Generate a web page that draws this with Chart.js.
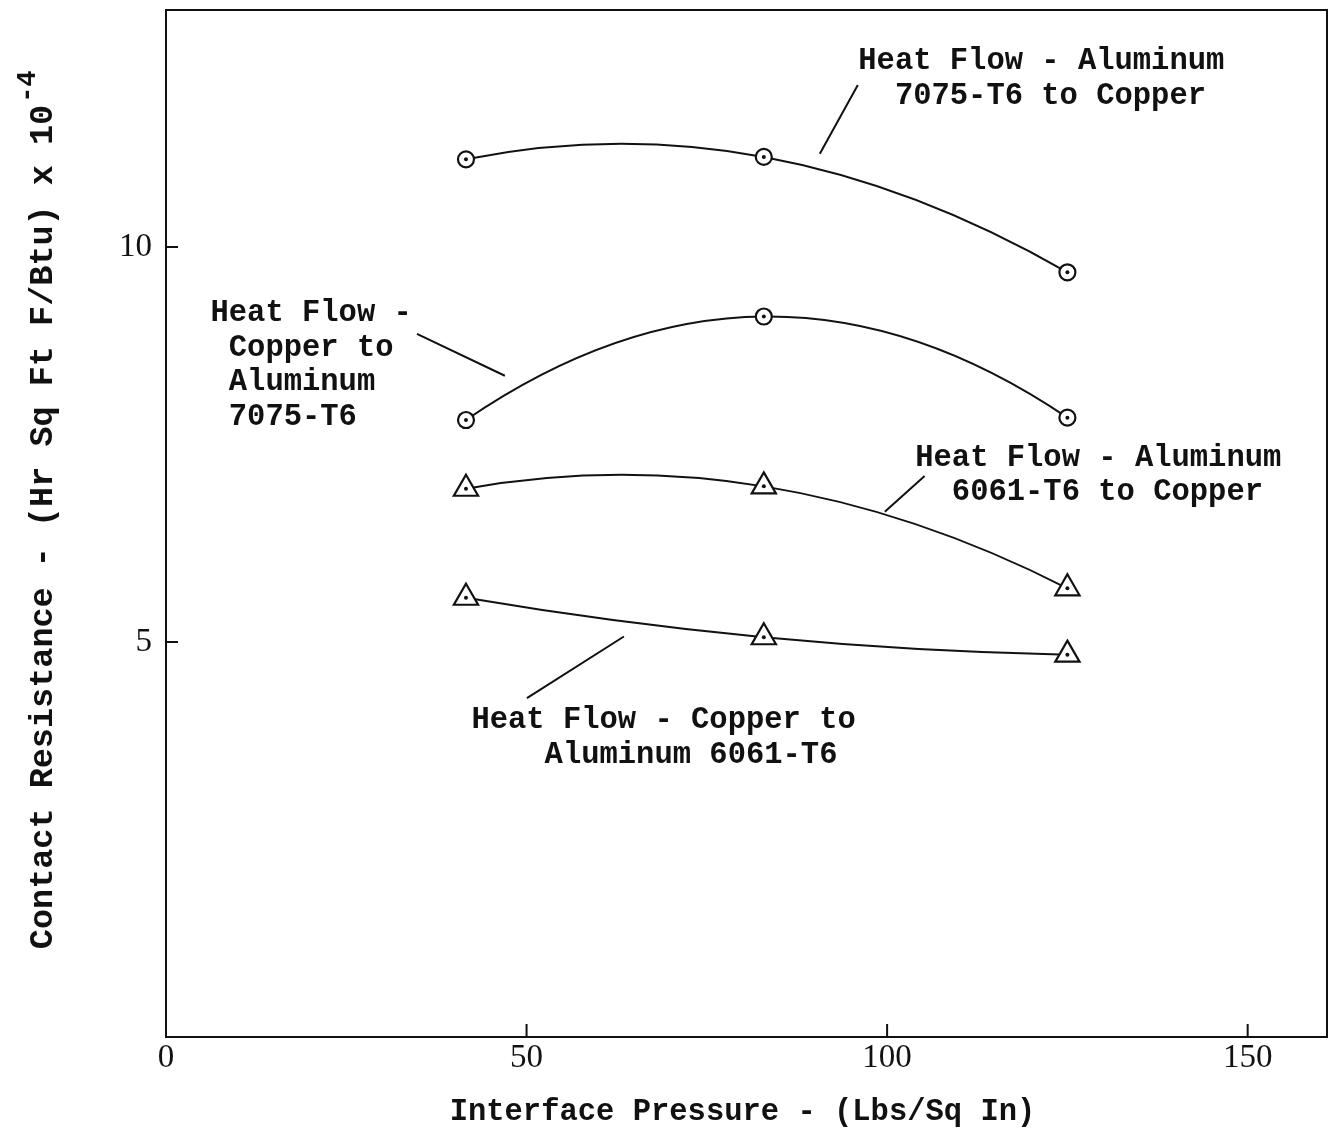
<!DOCTYPE html>
<html>
<head>
<meta charset="utf-8">
<script src="https://cdn.jsdelivr.net/npm/chart.js@4.4.1/dist/chart.umd.min.js"></script>
<style>
  body { margin: 0; background: #fff; }
  canvas { display: block; }
</style>
</head>
<body>
<canvas id="resistanceChart" width="1332" height="1138"></canvas>
<script>
// Interface pressure (Lbs/Sq In) at the three test points
const pressure = [41.6, 82.9, 125];

// Contact resistance x 10^-4 (Hr Sq Ft F/Btu)
const al7075ToCopper = [11.11, 11.14, 9.68];
const copperToAl7075 = [7.81, 9.12, 7.84];
const al6061ToCopper = [6.94, 6.97, 5.68];
const copperToAl6061 = [5.56, 5.06, 4.84];

// Axis ticks
const xTickValues = [0, 50, 100, 150];
const yTickValues = [5, 10];
const xTickMarks = [50, 100, 150];
const yTickMarks = [5, 10];

const xTitle = 'Interface Pressure - (Lbs/Sq In)';
const yTitle = 'Contact Resistance - (Hr Sq Ft F/Btu) x 10';
const yTitleExp = '-4';

// Curve labels (data coords of first baseline) and their leader lines
const curveLabels = [
    { lines: ['Heat Flow - Aluminum', '  7075-T6 to Copper'], x: 96.0, y: 12.25 },
    { lines: ['Heat Flow -', ' Copper to', ' Aluminum', ' 7075-T6'], x: 6.17, y: 9.06 },
    { lines: ['Heat Flow - Aluminum', '  6061-T6 to Copper'], x: 103.9, y: 7.23 },
    { lines: ['Heat Flow - Copper to', '    Aluminum 6061-T6'], x: 42.35, y: 3.91 }
];
const leaderLines = [
    [90.67, 11.18, 95.94, 12.05],
    [34.8, 8.90, 46.99, 8.37],
    [99.68, 6.65, 105.2, 7.10],
    [50.05, 4.29, 63.5, 5.07]
];

const INK = '#111';
const LABEL_FONT = 'bold 30.5px "Liberation Mono", "DejaVu Sans Mono", monospace';

function toPoints(values) {
    return values.map((v, i) => ({ x: pressure[i], y: v }));
}

function series(values, style, radius) {
    return {
        data: toPoints(values),
        showLine: false,
        borderColor: INK,
        pointStyle: style,
        pointRadius: radius,
        pointBorderWidth: 2.2,
        pointBorderColor: INK,
        pointBackgroundColor: '#fff'
    };
}

// smooth faired curve through the three points of each series:
// the parabola through them, written as two quadratic bezier pieces
function drawFairedCurve(ctx, xs, ys, pts) {
    const [a, b, c] = pts;
    const f01 = (b.y - a.y) / (b.x - a.x);
    const f12 = (c.y - b.y) / (c.x - b.x);
    const f012 = (f12 - f01) / (c.x - a.x);
    const slope = x => f01 + f012 * ((x - a.x) + (x - b.x));
    const px = (x, y) => [xs.getPixelForValue(x), ys.getPixelForValue(y)];

    ctx.beginPath();
    ctx.moveTo(...px(a.x, a.y));
    [[a, b], [b, c]].forEach(([p, q]) => {
        const mx = (p.x + q.x) / 2;
        const my = p.y + slope(p.x) * (q.x - p.x) / 2;
        ctx.quadraticCurveTo(...px(mx, my), ...px(q.x, q.y));
    });
    ctx.stroke();
}

const annotationPlugin = {
    id: 'annotations',
    beforeDatasetsDraw(chart) {
        const ctx = chart.ctx;
        ctx.save();
        ctx.strokeStyle = INK;
        ctx.lineWidth = 2;
        chart.data.datasets.forEach(ds => {
            drawFairedCurve(ctx, chart.scales.x, chart.scales.y, ds.data);
        });
        ctx.restore();
    },
    afterDatasetsDraw(chart) {
        // centre dot in every marker
        const ctx = chart.ctx;
        ctx.save();
        ctx.fillStyle = INK;
        chart.data.datasets.forEach((ds, i) => {
            chart.getDatasetMeta(i).data.forEach(pt => {
                ctx.beginPath();
                ctx.arc(pt.x, pt.y, 2, 0, Math.PI * 2);
                ctx.fill();
            });
        });
        ctx.restore();
    },
    afterDraw(chart) {
        const ctx = chart.ctx;
        const area = chart.chartArea;
        const xs = chart.scales.x;
        const ys = chart.scales.y;

        ctx.save();
        ctx.strokeStyle = INK;
        ctx.lineWidth = 2;
        ctx.strokeRect(area.left, area.top, area.right - area.left, area.bottom - area.top);

        ctx.beginPath();
        xTickMarks.forEach(v => {
            const px = xs.getPixelForValue(v);
            ctx.moveTo(px, area.bottom);
            ctx.lineTo(px, area.bottom - 13);
        });
        yTickMarks.forEach(v => {
            const py = ys.getPixelForValue(v);
            ctx.moveTo(area.left, py);
            ctx.lineTo(area.left + 12, py);
        });
        leaderLines.forEach(l => {
            ctx.moveTo(xs.getPixelForValue(l[0]), ys.getPixelForValue(l[1]));
            ctx.lineTo(xs.getPixelForValue(l[2]), ys.getPixelForValue(l[3]));
        });
        ctx.stroke();

        ctx.fillStyle = INK;
        ctx.font = LABEL_FONT;
        ctx.textAlign = 'left';
        ctx.textBaseline = 'alphabetic';
        curveLabels.forEach(lbl => {
            const px = xs.getPixelForValue(lbl.x);
            const py = ys.getPixelForValue(lbl.y);
            lbl.lines.forEach((line, k) => ctx.fillText(line, px, py + k * 34.5));
        });

        // x title
        ctx.font = 'bold 30.5px "Liberation Mono", monospace';
        ctx.textAlign = 'center';
        ctx.fillText(xTitle, (area.left + area.right) / 2 - 4, 1120);

        // y title with exponent
        ctx.translate(52, 527);
        ctx.rotate(-Math.PI / 2);
        ctx.font = 'bold 33.5px "Liberation Mono", monospace';
        const w = ctx.measureText(yTitle).width;
        ctx.fillText(yTitle, 0, 0);
        ctx.textAlign = 'left';
        ctx.font = 'bold 27px "Liberation Mono", monospace';
        ctx.fillText(yTitleExp, w / 2 + 2, -17);
        ctx.restore();
    }
};

const tickFont = { family: '"Liberation Serif", serif', size: 33 };

new Chart(document.getElementById('resistanceChart'), {
    type: 'line',
    data: {
        datasets: [
            series(al7075ToCopper, 'circle', 8),
            series(copperToAl7075, 'circle', 8),
            series(al6061ToCopper, 'triangle', 14),
            series(copperToAl6061, 'triangle', 14)
        ]
    },
    options: {
        responsive: false,
        animation: false,
        devicePixelRatio: 1,
        layout: { autoPadding: false, padding: { top: 10, right: 5, left: 0, bottom: 0 } },
        plugins: {
            legend: { display: false },
            tooltip: { enabled: false }
        },
        scales: {
            x: {
                type: 'linear',
                min: 0,
                max: 161,
                grid: { display: false, drawTicks: false, tickLength: 0 },
                border: { display: false },
                ticks: { stepSize: 50, color: INK, font: tickFont, padding: 2, maxRotation: 0 },
                afterBuildTicks: scale => {
                    scale.ticks = xTickValues.map(v => ({ value: v }));
                },
                afterFit: scale => {
                    scale.height = 101;
                    scale.paddingLeft = 0;
                    scale.paddingRight = 0;
                }
            },
            y: {
                min: 0,
                max: 13,
                grid: { display: false, drawTicks: false, tickLength: 0 },
                border: { display: false },
                ticks: { stepSize: 5, color: INK, font: tickFont, padding: 14 },
                afterBuildTicks: scale => {
                    scale.ticks = yTickValues.map(v => ({ value: v }));
                },
                afterFit: scale => {
                    scale.width = 166;
                    scale.paddingTop = 0;
                    scale.paddingBottom = 0;
                }
            }
        }
    },
    plugins: [annotationPlugin]
});
</script>
</body>
</html>
